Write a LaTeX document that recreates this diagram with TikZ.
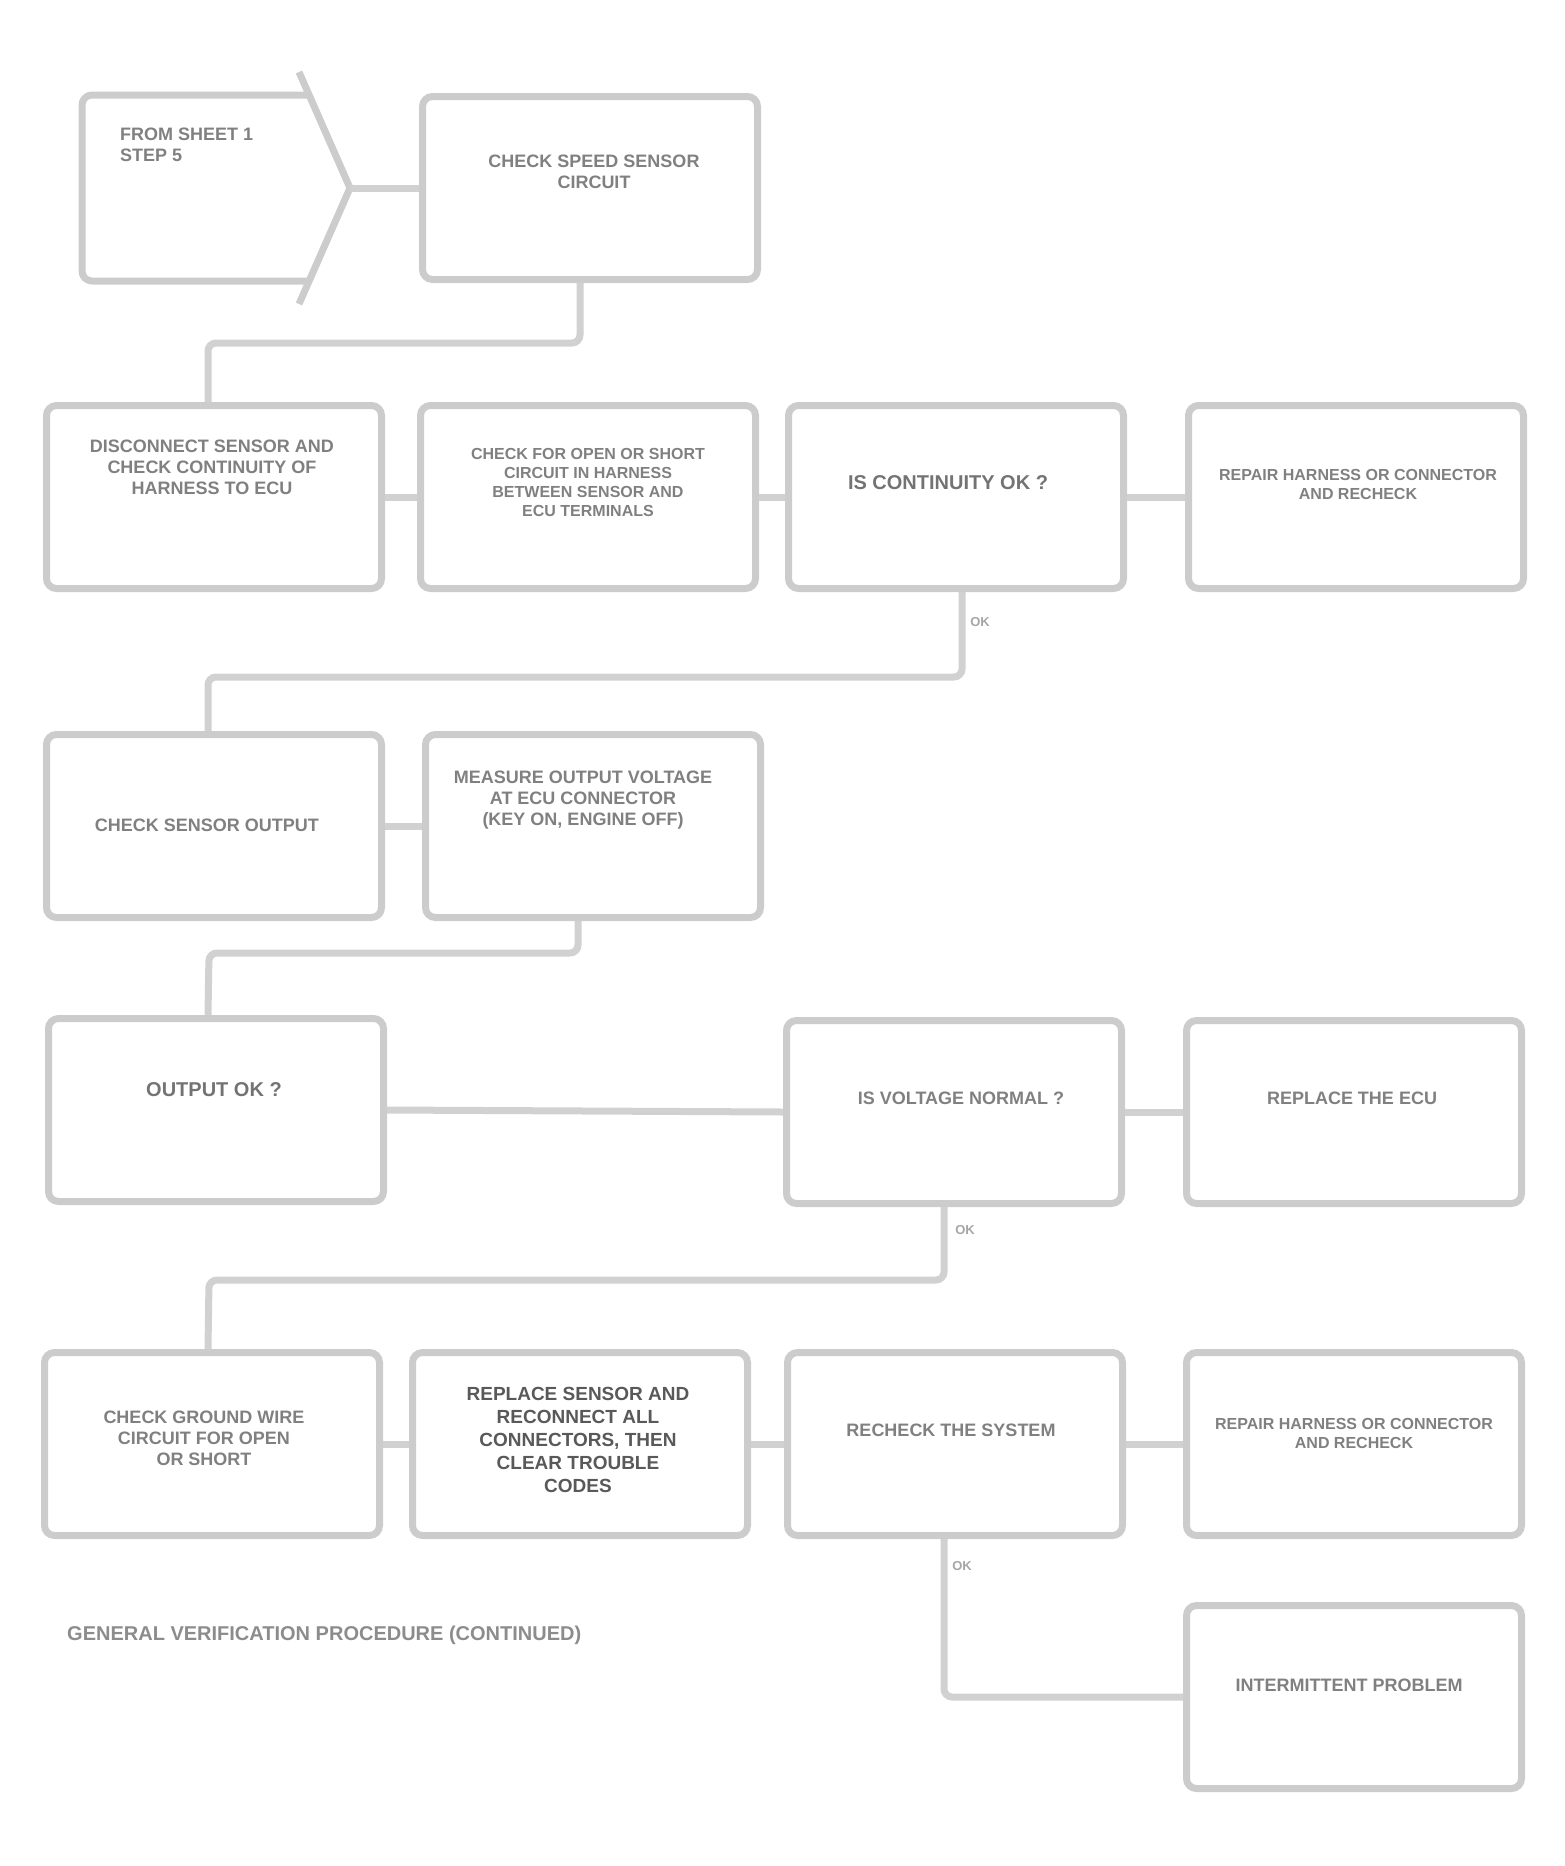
\documentclass[tikz,border=0pt]{standalone}
\usepackage{fontspec}
\setmainfont{Liberation Sans}
\begin{document}
\begin{tikzpicture}[x=1pt,y=-1pt,
  box/.style={draw=black!20, line width=7pt, rounded corners=10pt, minimum width=335pt, minimum height=183pt, inner sep=0pt},
  boxline/.style={draw=black!20, line width=7pt, line join=round},
  wire/.style={draw=black!18, line width=7pt, rounded corners=8pt},
  txt/.style={text=black!50, font=\bfseries\fontsize{18}{21}\selectfont, align=center, inner sep=0pt},
  smalltxt/.style={text=black!50, font=\bfseries\fontsize{16}{19}\selectfont, align=center, inner sep=0pt},
  bigtxt/.style={text=black!55, font=\bfseries\fontsize{20}{23}\selectfont, align=center, inner sep=0pt},
  lbl/.style={text=black!35, font=\bfseries\fontsize{13}{13}\selectfont, inner sep=0pt},
  captxt/.style={text=black!45, font=\bfseries\fontsize{20}{22}\selectfont, inner sep=0pt}]
\useasboundingbox (0,0) rectangle (1564,1866);

% ---- guide coordinates for connector columns ----
\coordinate (x580) at (580,0);
\coordinate (x208) at (208,0);
\coordinate (x962) at (962,0);
\coordinate (x578) at (578,0);
\coordinate (x944) at (944,0);

% ---- row 1 ----
\draw[boxline, rounded corners=10pt] (309,95) -- (82,95) -- (82,281) -- (309,281);
\draw[boxline] (299,72) -- (350,188) -- (299,304);
\coordinate (ptip) at (350,188);
\node[txt, align=left, anchor=north west] (tp) at (120,128) {FROM SHEET 1\\STEP 5};
\node[box] (b1) at (590,188) {};
\node[txt] (t1) at (594,172) {CHECK SPEED SENSOR\\CIRCUIT};

% ---- row 2 ----
\node[box] (r2a) at (214,497) {};
\node[box] (r2b) at (588,497) {};
\node[box] (r2c) at (956,497) {};
\node[box] (r2d) at (1356,497) {};
\node[txt] (t2a) at (212,467) {DISCONNECT SENSOR AND\\CHECK CONTINUITY OF\\HARNESS TO ECU};
\node[smalltxt] (t2b) at (588,482) {CHECK FOR OPEN OR SHORT\\CIRCUIT IN HARNESS\\BETWEEN SENSOR AND\\ECU TERMINALS};
\node[bigtxt] (t2c) at (948,483) {IS CONTINUITY OK ?};
\node[smalltxt] (t2d) at (1358,484) {REPAIR HARNESS OR CONNECTOR\\AND RECHECK};

% ---- row 3 ----
\node[box] (r3a) at (214,826) {};
\node[box] (r3b) at (593,826) {};
\node[txt] (t3a) at (207,825) {CHECK SENSOR OUTPUT};
\node[txt] (t3b) at (583,800) {MEASURE OUTPUT VOLTAGE\\AT ECU CONNECTOR\\(KEY ON, ENGINE OFF)};

% ---- row 4 ----
\node[box] (r4a) at (216,1110) {};
\node[box] (r4c) at (954,1112) {};
\node[box] (r4d) at (1354,1112) {};
\node[bigtxt] (t4a) at (214,1090) {OUTPUT OK ?};
\node[txt] (t4c) at (961,1098) {IS VOLTAGE NORMAL ?};
\node[txt] (t4d) at (1352,1098) {REPLACE THE ECU};

% ---- row 5 ----
\node[box] (r5a) at (212,1444) {};
\node[box] (r5b) at (580,1444) {};
\node[box] (r5c) at (955,1444) {};
\node[box] (r5d) at (1354,1444) {};
\node[txt] (t5a) at (204,1438) {CHECK GROUND WIRE\\CIRCUIT FOR OPEN\\OR SHORT};
\node[bigtxt, text=black!65, font=\bfseries\fontsize{19}{23}\selectfont] (t5b) at (578,1440) {REPLACE SENSOR AND\\RECONNECT ALL\\CONNECTORS, THEN\\CLEAR TROUBLE\\CODES};
\node[txt] (t5c) at (951,1430) {RECHECK THE SYSTEM};
\node[smalltxt] (t5d) at (1354,1433) {REPAIR HARNESS OR CONNECTOR\\AND RECHECK};

% ---- last box ----
\node[box] (e) at (1354,1697) {};
\node[txt] (te) at (1349,1685) {INTERMITTENT PROBLEM};

% ---- caption ----
\node[captxt, anchor=west] (caption) at (67,1635) {GENERAL VERIFICATION PROCEDURE (CONTINUED)};

% ---- connectors ----
\draw[wire] (ptip) -- (b1.west |- ptip);
\draw[wire] (b1.south -| x580) -- (580,343) -- (208,343) -- (r2a.north -| x208);
\draw[wire] (r2a.east) -- (r2b.west);
\draw[wire] (r2b.east) -- (r2c.west);
\draw[wire] (r2c.east) -- (r2d.west);
\draw[wire] (r2c.south -| x962) -- (962,677) -- (208,677) -- (r3a.north -| x208);
\draw[wire] (r3a.east) -- (r3b.west);
\draw[wire] (r3b.south -| x578) -- (578,953) -- (209,953) -- (r4a.north -| x208);
\draw[wire] (r4a.east) -- (r4c.west);
\draw[wire] (r4c.east) -- (r4d.west);
\draw[wire] (r4c.south -| x944) -- (944,1280) -- (209,1280) -- (r5a.north -| x208);
\draw[wire] (r5a.east) -- (r5b.west);
\draw[wire] (r5b.east) -- (r5c.west);
\draw[wire] (r5c.east) -- (r5d.west);
\draw[wire] (r5c.south -| x944) -- (944,1697) -- (e.west);

\node[lbl] (l1) at (980,622) {OK};
\node[lbl] (l2) at (965,1230) {OK};
\node[lbl] (l3) at (962,1566) {OK};
\end{tikzpicture}
\end{document}
